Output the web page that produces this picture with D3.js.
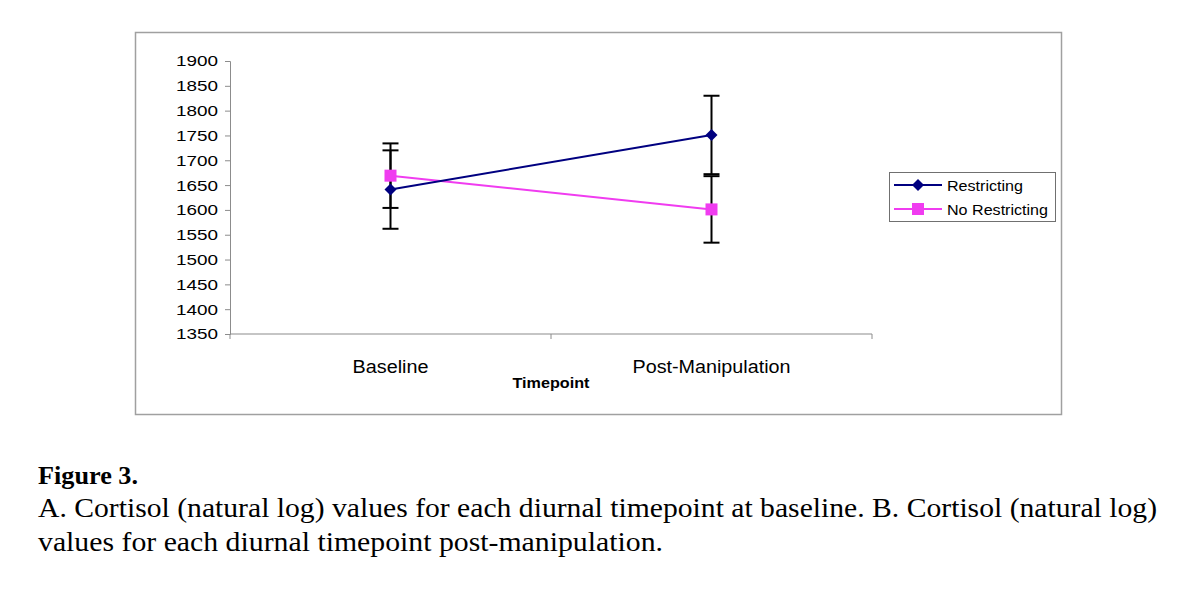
<!DOCTYPE html>
<html><head><meta charset="utf-8">
<script src="https://cdn.jsdelivr.net/npm/d3@7"></script>
<style>body{margin:0;background:#fff;}svg{display:block;}</style>
</head><body>
<svg id="chart" width="1200" height="589"></svg>
<script>
const categories = ["Baseline", "Post-Manipulation"];
const seriesNames = ["Restricting", "No Restricting"];
const restrictingMeans = [1641, 1751];
const restrictingErr = [79, 79];
const noRestrictingMeans = [1669, 1601];
const noRestrictingErr = [65, 67];
const yTicks = [1350,1400,1450,1500,1550,1600,1650,1700,1750,1800,1850,1900];
const xTitle = "Timepoint";
const captionTitle = "Figure 3.";
const captionLines = ["A. Cortisol (natural log) values for each diurnal timepoint at baseline. B. Cortisol (natural log)",
                      "values for each diurnal timepoint post-manipulation."];

(function(){
const series = [
  {name: seriesNames[0], means: restrictingMeans, err: restrictingErr, color: "#000080", shape: "diamond"},
  {name: seriesNames[1], means: noRestrictingMeans, err: noRestrictingErr, color: "#f03cf0", shape: "square"}
];

const svg = d3.select("#chart");
const pL = 230, pR = 872, pT = 61, pB = 334;
const x = d3.scaleBand().domain(categories).range([pL, pR]);
const y = d3.scaleLinear().domain([1350, 1900]).range([pB, pT]);
const axisColor = "#8c8c8c";
const sans = "Liberation Sans, Arial, sans-serif";
const serif = "Liberation Serif, Times New Roman, serif";

svg.append("rect").attr("x", 135.5).attr("y", 32.5).attr("width", 926).attr("height", 382)
  .attr("fill", "none").attr("stroke", "#a0a0a0").attr("stroke-width", 1.5);

const yAxis = svg.append("g").attr("transform", `translate(${pL},0)`)
  .call(d3.axisLeft(y).tickValues(yTicks).tickSize(5).tickPadding(7).tickFormat(d3.format("d")));
yAxis.selectAll("path, line").attr("stroke", axisColor);
yAxis.selectAll("text").attr("font-family", sans).attr("font-size", 15.5).attr("fill", "#000")
  .attr("textLength", 42).attr("lengthAdjust", "spacingAndGlyphs");

const xg = svg.append("g").attr("transform", `translate(0,${pB})`);
xg.append("line").attr("x1", pL).attr("x2", pR).attr("stroke", axisColor).attr("stroke-width", 1.2);
const bounds = [pL].concat(categories.map(c => x(c) + x.bandwidth()));
xg.selectAll(".tk").data(bounds).join("line").attr("x1", d => d).attr("x2", d => d)
  .attr("y1", 0).attr("y2", 5).attr("stroke", axisColor);
const catLen = {"Baseline": 76, "Post-Manipulation": 158};
xg.selectAll(".cl").data(categories).join("text")
  .attr("x", d => x(d) + x.bandwidth()/2).attr("y", 39).attr("text-anchor", "middle")
  .attr("font-family", sans).attr("font-size", 17.5)
  .attr("textLength", d => catLen[d]).attr("lengthAdjust", "spacingAndGlyphs").text(d => d);
svg.append("text").attr("x", (pL+pR)/2).attr("y", 388).attr("text-anchor", "middle")
  .attr("font-family", sans).attr("font-size", 14.5).attr("font-weight", "bold")
  .attr("textLength", 77).attr("lengthAdjust", "spacingAndGlyphs").text(xTitle);

const cx = c => x(c) + x.bandwidth()/2;

series.forEach(s => {
  const g = svg.append("g");
  categories.forEach((c, i) => {
    const hi = y(s.means[i] + s.err[i]), lo = y(s.means[i] - s.err[i]);
    g.append("line").attr("x1", cx(c)).attr("x2", cx(c)).attr("y1", hi).attr("y2", lo).attr("stroke", "#000").attr("stroke-width", 2);
    [hi, lo].forEach(yy => g.append("line").attr("x1", cx(c)-8).attr("x2", cx(c)+8).attr("y1", yy).attr("y2", yy).attr("stroke", "#000").attr("stroke-width", 2));
  });
});

function marker(g, shape, color, px, py) {
  if (shape === "diamond") {
    g.append("path").attr("d", `M${px},${py-6}L${px+6},${py}L${px},${py+6}L${px-6},${py}Z`).attr("fill", color);
  } else {
    g.append("rect").attr("x", px-6).attr("y", py-6).attr("width", 12).attr("height", 12).attr("fill", color);
  }
}

[series[1], series[0]].forEach(s => {
  const g = svg.append("g");
  const line = d3.line().x((d, i) => cx(categories[i])).y(d => y(d));
  g.append("path").attr("d", line(s.means)).attr("fill", "none").attr("stroke", s.color).attr("stroke-width", 2);
  s.means.forEach((m, i) => marker(g, s.shape, s.color, cx(categories[i]), y(m)));
});

const lg = svg.append("g");
lg.append("rect").attr("x", 889.5).attr("y", 172.5).attr("width", 166).attr("height", 49)
  .attr("fill", "#fff").attr("stroke", "#707070").attr("stroke-width", 1);
const legLen = [76, 101];
series.forEach((s, i) => {
  const yy = 185 + i*24;
  lg.append("line").attr("x1", 894).attr("x2", 942).attr("y1", yy).attr("y2", yy).attr("stroke", s.color).attr("stroke-width", 2);
  marker(lg, s.shape, s.color, 918, yy);
  lg.append("text").attr("x", 947).attr("y", yy + 5.5).attr("font-family", sans)
    .attr("font-size", 15.5).attr("textLength", legLen[i]).attr("lengthAdjust", "spacingAndGlyphs").text(s.name);
});

svg.append("text").attr("x", 38).attr("y", 484).attr("font-family", serif)
  .attr("font-size", 26).attr("font-weight", "bold")
  .attr("textLength", 100).attr("lengthAdjust", "spacingAndGlyphs").text(captionTitle);
const capLen = [1119, 625];
captionLines.forEach((t, i) => {
  svg.append("text").attr("x", 38).attr("y", 517 + i*34).attr("font-family", serif)
    .attr("font-size", 27).attr("textLength", capLen[i]).attr("lengthAdjust", "spacingAndGlyphs").text(t);
});
})();
</script>
</body></html>
